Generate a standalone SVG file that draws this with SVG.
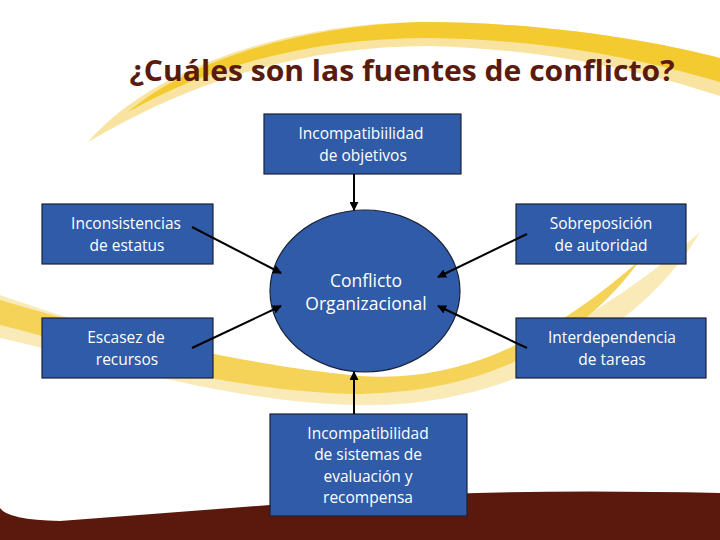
<svg xmlns="http://www.w3.org/2000/svg" width="720" height="540" viewBox="0 0 720 540">
<style>
.box{fill:#2f5ba8;stroke:#1b2236;stroke-width:1.2}
.t{font-family:"Open Sans","DejaVu Sans",sans-serif;font-size:15.5px;fill:#ffffff;text-anchor:middle;dominant-baseline:central}
.big{font-size:17.5px}
.c{stroke:#000;stroke-width:2;fill:none;marker-end:url(#ah)}
</style>
<defs>
<marker id="ah" viewBox="0 0 10 10" refX="9" refY="5" markerWidth="4.5" markerHeight="4.5" orient="auto" markerUnits="strokeWidth">
<path d="M0,0 L10,5 L0,10 Z" fill="#000"/>
</marker>
</defs>
<rect width="720" height="540" fill="#ffffff"/>
<g id="background">
<path d="M88,142 C150,70 280,24 420,22 C560,22 670,45 720,58 L720,96 C650,74 560,50 430,46 C300,46 190,82 88,142 Z" fill="#f8e4a0"/>
<path d="M128,112 C190,60 300,26 420,22 C560,22 670,45 720,58 L720,82 C650,62 560,40 430,38 C310,38 210,66 128,112 Z" fill="#f3cb30"/>
<path d="M0,295 C100,330 240,372 360,380 C480,386 600,320 700,232 C650,320 520,408 360,405 C220,402 100,360 0,338 Z" fill="#f9eab8"/>
<path d="M0,300 C100,330 240,365 360,376 C470,384 560,330 640,260 C590,330 500,392 360,394 C220,392 100,350 0,325 Z" fill="#f5d258"/>
<path d="M0,508 Q8,520 60,521 L270,505 Q450,487 720,493 L720,540 L0,540 Z" fill="#5a190c"/>
</g>
<text x="402" y="70" font-family="Open Sans, DejaVu Sans, sans-serif" font-weight="bold" font-size="28" fill="#5a1a0c" text-anchor="middle" dominant-baseline="central" textLength="545" lengthAdjust="spacingAndGlyphs">¿Cuáles son las fuentes de conflicto?</text>
<g id="center">
<ellipse cx="365" cy="291" rx="95" ry="81" fill="#2f5ba8" stroke="#1b2236" stroke-width="1.2"/>
<text class="t big" x="366" y="280">Conflicto</text>
<text class="t big" x="366" y="303">Organizacional</text>
</g>
<g id="n-objetivos">
<rect class="box" x="264" y="114" width="197" height="60"/>
<text class="t" x="361" y="133">Incompatibiilidad</text>
<text class="t" x="363" y="155">de objetivos</text>
</g>
<g id="n-estatus">
<rect class="box" x="42" y="204" width="171" height="60"/>
<text class="t" x="126" y="223">Inconsistencias</text>
<text class="t" x="127" y="245">de estatus</text>
</g>
<g id="n-autoridad">
<rect class="box" x="516" y="204" width="170" height="60"/>
<text class="t" x="601" y="223">Sobreposición</text>
<text class="t" x="601" y="245">de autoridad</text>
</g>
<g id="n-recursos">
<rect class="box" x="42" y="318" width="171" height="60"/>
<text class="t" x="126" y="337">Escasez de</text>
<text class="t" x="127" y="359">recursos</text>
</g>
<g id="n-tareas">
<rect class="box" x="516" y="318" width="190" height="60"/>
<text class="t" x="612" y="337">Interdependencia</text>
<text class="t" x="612" y="359">de tareas</text>
</g>
<g id="n-sistemas">
<rect class="box" x="270" y="414" width="197" height="102"/>
<text class="t" x="368" y="433">Incompatibilidad</text>
<text class="t" x="368" y="454">de sistemas de</text>
<text class="t" x="368" y="476">evaluación y</text>
<text class="t" x="368" y="497">recompensa</text>
</g>
<g id="connectors">
<line class="c" x1="354" y1="174" x2="354" y2="210"/>
<line class="c" x1="354" y1="414" x2="354" y2="372"/>
<line class="c" x1="192" y1="227" x2="281" y2="273"/>
<line class="c" x1="192" y1="348" x2="281" y2="306"/>
<line class="c" x1="527" y1="234" x2="438" y2="277"/>
<line class="c" x1="527" y1="348" x2="438" y2="306"/>
</g>
</svg>
